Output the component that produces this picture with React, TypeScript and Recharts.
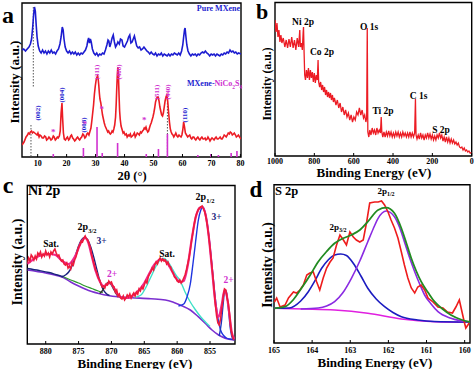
import React from 'react';
import { LineChart, Line, XAxis, YAxis, ReferenceLine, ReferenceArea } from 'recharts';

const SERIF = '"Liberation Serif", "Times New Roman", serif';

// ---- (a) XRD: 2θ (deg) vs intensity (a.u.)
const xrdTicks = [10, 20, 30, 40, 50, 60, 70, 80];
const xrdMxene = [
  [4.6,107],[5.2,108],[5.8,106],[6.4,108],[7.0,110],[7.5,113],[7.9,118],[8.3,130],[8.6,142],[8.9,150],[9.2,146],[9.5,132],[9.8,120],[10.2,111],[10.7,106],[11.2,104],[11.7,107],[12.2,104],[12.7,106],[13.2,103],[13.7,106],[14.2,104],[14.7,107],[15.2,104],[15.7,105],[16.2,103],[16.7,106],[17.2,108],[17.7,113],[18.1,120],[18.5,130],[18.8,127],[19.1,118],[19.5,110],[20,106],[20.5,104],[21,106],[21.5,103],[22,105],[22.5,103],[23,105],[23.5,102],[24,104],[24.5,102],[25,104],[25.5,103],[26,105],[26.5,107],[27,111],[27.3,116],[27.6,119],[27.9,114],[28.2,118],[28.5,115],[28.9,108],[29.4,104],[29.9,102],[30.4,104],[30.9,101],[31.4,103],[31.9,102],[32.4,104],[32.9,103],[33.4,107],[33.9,112],[34.3,117],[34.6,116],[34.9,110],[35.3,114],[35.7,119],[36.1,122],[36.5,115],[36.9,110],[37.3,112],[37.7,115],[38.2,113],[38.6,118],[39.1,117],[39.5,111],[40,110],[40.5,113],[41,116],[41.4,120],[41.8,122],[42.2,114],[42.6,115],[43,118],[43.4,121],[43.8,116],[44.2,111],[44.7,109],[45.2,110],[45.7,107],[46.2,108],[46.7,110],[47.2,108],[47.7,106],[48.2,105],[48.7,103],[49.2,105],[49.7,103],[50.2,102],[50.7,104],[51.2,101],[51.7,103],[52.2,102],[52.7,104],[53.2,101],[53.7,103],[54.2,102],[54.7,101],[55.2,103],[55.7,101],[56.2,103],[56.7,102],[57.2,104],[57.7,103],[58.2,102],[58.7,104],[59.2,102],[59.7,106],[60.1,112],[60.4,120],[60.7,127],[60.9,129],[61.2,120],[61.5,112],[61.9,106],[62.4,103],[62.9,101],[63.4,103],[63.9,102],[64.4,103],[64.9,101],[65.4,103],[65.9,102],[66.4,104],[66.9,105],[67.4,104],[67.9,106],[68.4,104],[68.9,103],[69.4,101],[69.9,103],[70.4,102],[70.9,103],[71.4,101],[71.9,103],[72.4,102],[72.9,101],[73.4,103],[73.9,102],[74.4,104],[74.9,103],[75.4,105],[75.9,104],[76.4,107],[76.9,105],[77.4,106],[77.9,104],[78.4,105],[78.9,103],[79.4,104],[80.2,103],
];
const xrdComposite = [
  [4.6,12],[5.3,15],[6.0,20],[6.5,22],[6.8,24],[7.2,23],[7.5,25],[7.9,26],[8.2,24],[8.6,25],[9.0,24],[9.4,23],[9.8,22],[10.1,24],[10.5,20],[10.8,22],[11.2,21],[11.6,19],[12.0,19],[12.4,21],[12.8,20],[13.1,17],[13.5,18],[13.9,20],[14.2,19],[14.6,17],[15.0,18],[15.4,21],[15.7,20],[16.1,17],[16.4,18],[16.8,20],[17.1,19],[17.5,21],[17.8,26],[18.1,44],[18.4,54],[18.6,40],[18.9,24],[19.2,18],[19.6,17],[20.0,19],[20.3,20],[20.7,17],[21.0,18],[21.4,21],[21.7,22],[22.1,19],[22.4,18],[22.8,16],[23.1,17],[23.5,19],[23.8,20],[24.2,18],[24.5,17],[24.9,19],[25.2,20],[25.6,23],[25.9,22],[26.3,19],[26.6,20],[27.0,23],[27.3,24],[27.7,22],[28.0,25],[28.4,29],[28.7,36],[29.0,44],[29.3,52],[29.6,63],[29.9,71],[30.2,77],[30.5,80],[30.7,81],[30.9,78],[31.1,72],[31.3,64],[31.5,58],[31.8,54],[32.1,48],[32.4,42],[32.7,38],[33.0,34],[33.3,31],[33.6,29],[33.9,27],[34.2,25],[34.5,26],[34.8,24],[35.1,23],[35.4,24],[35.7,26],[36.0,25],[36.3,28],[36.6,32],[36.9,40],[37.1,52],[37.3,68],[37.5,82],[37.7,90],[37.9,80],[38.1,62],[38.3,46],[38.5,38],[38.8,31],[39.1,28],[39.5,24],[39.8,25],[40.2,22],[40.6,23],[40.9,20],[41.3,22],[41.6,21],[42.0,23],[42.3,20],[42.7,21],[43.0,22],[43.4,24],[43.7,20],[44.1,22],[44.4,24],[44.8,23],[45.1,22],[45.5,25],[45.8,24],[46.2,26],[46.5,27],[46.8,29],[47.1,28],[47.4,30],[47.7,27],[48.0,25],[48.3,26],[48.6,29],[48.9,32],[49.2,34],[49.5,37],[49.8,40],[50.1,44],[50.4,49],[50.7,55],[51.0,58],[51.3,60],[51.6,60],[51.9,56],[52.2,50],[52.5,46],[52.8,42],[53.1,41],[53.4,44],[53.7,50],[54.0,56],[54.3,60],[54.6,62],[54.9,56],[55.2,45],[55.5,35],[55.8,28],[56.1,25],[56.4,23],[56.7,22],[57.0,20],[57.4,22],[57.7,24],[58.1,21],[58.4,20],[58.8,22],[59.1,21],[59.5,20],[59.8,22],[60.1,27],[60.4,35],[60.7,30],[61.0,24],[61.4,22],[61.8,20],[62.1,21],[62.5,22],[62.9,19],[63.2,18],[63.6,20],[63.9,20],[64.3,18],[64.6,17],[65.0,19],[65.3,20],[65.7,18],[66.0,17],[66.4,19],[66.7,20],[67.1,18],[67.4,18],[67.8,19],[68.1,17],[68.5,18],[68.8,20],[69.2,18],[69.5,16],[69.9,18],[70.2,19],[70.6,18],[70.9,17],[71.3,19],[71.6,20],[72.0,18],[72.3,18],[72.7,19],[73.0,20],[73.4,18],[73.7,18],[74.1,20],[74.4,22],[74.8,21],[75.1,20],[75.5,22],[75.8,24],[76.2,23],[76.5,25],[76.9,24],[77.2,22],[77.6,23],[77.9,24],[78.3,22],[78.6,20],[79.0,21],[79.3,22],[79.7,20],[80.2,18],
];
// NiCo2S4 reference lines: position (deg), height
const stickPos = [15.4, 25.8, 30.5, 32.3, 37.6, 47.5, 51.7, 54.8, 65.3, 69.8, 72.4, 76.8, 78.8];
const stickHeight = [3, 9, 30, 4, 14, 3, 8, 23, 2, 3, 2, 4, 6];
// dotted guide lines: [x, yFrom, yTo]
const xrdGuides = [[8.5, 150, 70], [7.7, 32, 0], [54.8, 60, 0]];

// ---- (b) XPS survey
const surveyTicks = [1000, 800, 600, 400, 200, 0];
const survey = [
  [1000,136],[995,124],[990,133],[985,119],[980,126],[975,114],[970,121],[965,113],[958,118],[950,109],[943,116],[936,108],[929,117],[922,109],[915,119],[908,108],[901,116],[894,106],[887,118],[880,109],[874,126],[871,109],[866,113],[861,106],[857,123],[855,129],[852,103],[849,81],[845,76],[840,86],[835,78],[830,88],[825,76],[820,86],[815,78],[810,84],[805,74],[800,83],[795,73],[790,81],[785,76],[781,96],[778,74],[773,69],[768,74],[763,66],[758,71],[753,64],[748,69],[743,61],[738,66],[733,59],[728,64],[723,58],[718,63],[713,56],[708,61],[703,54],[698,58],[690,51],[683,56],[676,48],[669,53],[662,44],[655,49],[648,41],[641,46],[634,39],[627,43],[620,36],[613,41],[606,34],[599,39],[592,36],[585,44],[578,41],[571,48],[564,41],[557,46],[550,38],[544,41],[538,34],[534,38],[531,128],[528,24],[523,19],[518,26],[512,21],[506,28],[500,23],[494,26],[488,21],[482,28],[476,23],[470,26],[464,23],[460,39],[457,24],[452,19],[446,24],[440,19],[434,24],[428,20],[422,25],[416,20],[410,24],[404,19],[398,23],[392,19],[386,24],[380,20],[374,24],[368,19],[362,23],[356,19],[350,24],[344,20],[338,23],[332,19],[326,23],[320,19],[314,24],[308,19],[302,23],[296,19],[290,23],[286,57],[283,21],[278,17],[272,21],[266,17],[260,23],[254,18],[248,21],[242,16],[236,21],[230,18],[224,23],[218,18],[212,22],[206,17],[200,21],[194,16],[188,20],[182,16],[176,21],[170,18],[164,23],[158,18],[152,21],[146,15],[140,19],[134,14],[128,19],[122,14],[116,18],[110,13],[104,17],[98,13],[92,16],[86,12],[80,14],[74,11],[68,13],[62,9],[56,8],[50,9],[44,6],[38,8],[32,5],[26,6],[20,4],[14,5],[8,3],[0,3],
];

// ---- (c) Ni 2p
const niTicks = [880, 875, 870, 865, 860, 855];
const niData = [
  [882.8,81],[882.6,86],[882.4,83],[882.2,89],[882.0,87],[881.8,84],[881.6,88],[881.4,85],[881.2,91],[881.0,89],[880.8,92],[880.6,87],[880.4,90],[880.2,88],[880.0,93],[879.8,89],[879.6,91],[879.4,87],[879.2,92],[879.0,90],[878.8,93],[878.6,95],[878.4,91],[878.2,88],[878.0,89],[877.8,85],[877.6,83],[877.4,84],[877.2,80],[877.0,79],[876.8,81],[876.6,76],[876.4,78],[876.2,75],[876.0,81],[875.8,79],[875.6,84],[875.4,87],[875.2,92],[875.0,97],[874.8,99],[874.6,103],[874.4,102],[874.2,106],[874.0,108],[873.8,105],[873.6,104],[873.4,100],[873.2,96],[873.0,89],[872.8,84],[872.6,79],[872.4,74],[872.2,71],[872.0,66],[871.8,64],[871.6,60],[871.4,57],[871.2,58],[871.0,56],[870.8,60],[870.6,59],[870.4,63],[870.2,61],[870.0,62],[869.8,58],[869.6,57],[869.4,52],[869.2,54],[869.0,48],[868.8,50],[868.6,46],[868.4,45],[868.2,48],[868.0,44],[867.8,46],[867.6,49],[867.4,47],[867.2,50],[867.0,46],[866.8,49],[866.6,51],[866.4,48],[866.2,52],[866.0,50],[865.8,55],[865.6,53],[865.4,57],[865.2,55],[865.0,59],[864.8,63],[864.6,61],[864.4,67],[864.2,70],[864.0,72],[863.8,76],[863.6,74],[863.4,79],[863.2,82],[863.0,80],[862.8,84],[862.6,86],[862.4,83],[862.2,85],[862.0,83],[861.8,84],[861.6,80],[861.4,82],[861.2,78],[861.0,77],[860.8,73],[860.6,71],[860.4,67],[860.2,66],[860.0,63],[859.8,62],[859.6,64],[859.4,61],[859.2,63],[859.0,66],[858.8,69],[858.6,74],[858.4,80],[858.2,86],[858.0,94],[857.8,104],[857.6,112],[857.4,120],[857.2,127],[857.0,131],[856.8,134],[856.6,136],[856.4,137],[856.2,138],[856.0,135],[855.8,132],[855.6,126],[855.4,118],[855.2,108],[855.0,96],[854.8,83],[854.6,70],[854.4,56],[854.2,40],[854.0,28],[853.8,21],[853.6,19],[853.4,25],[853.2,36],[853.0,47],[852.8,55],[852.6,54],[852.4,46],[852.2,40],[852.0,28],[851.8,14],[851.6,8],[851.4,4],
];
const niEnvelope = [
  [882.8,80],[881,88],[879.5,90],[878.5,89],[877.5,83],[876.5,80],[875.5,88],[874.5,103],[874,106],[873.5,101],[873,88],[872.4,73],[871.8,63],[871.2,58],[870.6,60],[870.2,61],[869.6,56],[869,49],[868.2,46],[867.4,46],[866.6,49],[865.8,54],[865,61],[864.2,71],[863.4,80],[862.6,84.5],[862,84],[861.4,80],[860.8,73],[860.2,66],[859.6,62],[859,63],[858.4,78],[857.8,104],[857.2,126],[856.6,136],[856.2,137],[855.7,130],[855.2,108],[854.7,75],[854.2,42],[853.7,27],[853.2,40],[852.8,54],[852.5,50],[852.1,32],[851.7,12],[851.3,5],
];
const niBackground = [
  [882.8,74],[880,71],[878,68],[877.5,67],[876.2,62],[875,58],[874,55],[873,52.5],[871.9,50.5],[870.5,48.5],[869,47.2],[866.9,46.3],[864,45.2],[861.8,44],[860.5,41.5],[859.3,38.3],[858,34],[856.8,27.3],[855.7,20.5],[854.7,14],[853.7,9],[853.2,7.3],[852.3,5],[851.3,4],
];
const niSatLow = [[882.8,75.5],[881,73.5],[879.5,71.5],[878.2,69],[877.4,67.5]];
const niGreen = [[877.4,67.5],[876.2,64],[875,61],[874,58],[873,55.5],[872,53],[871.3,51.5]];
const ni3p32 = [
  [877.6,67],[877,69],[876.5,72],[876,78],[875.5,88],[875,98],[874.5,104.5],[874.1,106.5],[873.7,105],[873.2,98],[872.7,87],[872.2,74],[871.8,64],[871.3,55],[870.8,50.5],[870.3,48.5],
];
const ni2p32 = [[871.8,50.5],[871.3,54],[870.9,59],[870.5,61.5],[870.1,60],[869.6,54],[869.1,48.5],[868.7,47]];
const niSatHigh = [
  [866.5,46.5],[865.5,49],[864.8,56],[864,67],[863.2,78],[862.5,84.5],[862,85.5],[861.5,83],[860.8,76],[860.2,69],[859.6,64],[858.8,52],[858,42],[857.2,34],[856.4,27],[855.7,22],[855,17.5],
];
const ni3p12 = [
  [859.8,38],[859,40],[858.5,47],[858,60],[857.6,80],[857.2,102],[856.8,123],[856.4,134],[856.1,137],[855.8,133],[855.4,120],[855,98],[854.6,72],[854.2,46],[853.8,26],[853.4,14],[853,9],[852.5,6],[852,5],[851.3,4.5],
];
const ni2p12 = [[853.6,8],[853.3,20],[853,40],[852.75,54],[852.5,52],[852.2,35],[851.9,15],[851.6,6],[851.3,4]];

// ---- (d) S 2p
const sTicks = [165, 164, 163, 162, 161, 160];
const sData = [
  [164.99,41],[164.93,45],[164.84,36],[164.71,38],[164.62,45],[164.49,51],[164.41,50],[164.32,53],[164.23,58],[164.14,68],[164.06,70],[163.97,71],[163.88,61],[163.8,53],[163.71,65],[163.62,75],[163.53,81],[163.45,85],[163.36,98],[163.27,108],[163.18,103],[163.1,98],[163.01,111],[162.92,106],[162.84,103],[162.75,101],[162.66,103],[162.57,121],[162.49,140],[162.36,141],[162.27,141],[162.18,142],[162.1,138],[162.01,131],[161.93,123],[161.84,115],[161.75,105],[161.66,91],[161.58,78],[161.49,65],[161.4,55],[161.31,50],[161.23,56],[161.14,58],[161.05,53],[160.96,45],[160.83,41],[160.7,36],[160.57,35],[160.45,31],[160.32,30],[160.23,36],[160.14,43],[160.01,21],[159.97,15],[159.88,20],
];
const sEnvelope = [
  [164.99,34.7],[164.71,36.3],[164.5,43],[164.28,54.7],[164.05,68],[163.84,81.3],[163.62,91.5],[163.41,99.7],[163.2,104.5],[162.97,108],[162.75,113],[162.54,121.3],[162.27,133],[162.06,135.3],[161.84,129.7],[161.66,114.7],[161.53,100],[161.4,84.7],[161.27,72],[161.14,61.3],[160.95,50],[160.79,41.3],[160.58,34],[160.36,28],[160.1,23.5],[159.86,21],
];
const s2p32 = [
  [164.99,34.7],[164.6,35],[164.3,42],[164.1,51.3],[163.93,62],[163.75,74.7],[163.58,83],[163.41,88],[163.25,89],[163.1,87.5],[162.89,78],[162.72,67],[162.54,54.7],[162.32,44],[162.1,36.3],[161.88,30.5],[161.66,26.3],[161.23,23],[160.8,21.5],[159.86,21],
];
const s2p12 = [
  [164.3,34],[163.84,35],[163.62,37],[163.41,41.3],[163.2,50],[162.97,64.7],[162.75,82],[162.54,101.3],[162.4,114],[162.27,124.7],[162.06,132],[161.84,126.3],[161.7,115],[161.58,101.3],[161.45,86],[161.31,71.3],[161.18,59],[161.05,48],[160.88,39],[160.7,31.3],[160.36,24.7],[159.86,21],
];
const sBackground = [[164.99,34.7],[164.2,34],[163.41,33],[162.54,29.7],[161.66,24],[160.79,21.3],[159.86,20.7]];

const pts = (arr: number[][]) => arr.map(([x, y]) => ({ x, y }));

const tickStyle = { fontSize: 8, fontWeight: 700, fill: '#000', fontFamily: SERIF };

type TxtProps = {
  x: number; y: number; size: number; color?: string; rotate?: boolean;
  anchor?: 'start' | 'middle' | 'end'; children: React.ReactNode;
};
const Txt = ({ x, y, size, color = '#000', rotate = false, anchor = 'middle', children }: TxtProps) => {
  const tx = anchor === 'start' ? '0' : anchor === 'end' ? '-100%' : '-50%';
  return (
    <div
      style={{
        position: 'absolute', left: x, top: y, fontSize: size, color, fontWeight: 700,
        fontFamily: SERIF, lineHeight: 1, whiteSpace: 'nowrap',
        transform: `translate(${tx}, -50%)${rotate ? ' rotate(-90deg)' : ''}`,
      }}
    >
      {children}
    </div>
  );
};
const Sub = ({ children, size }: { children: React.ReactNode; size: number }) => (
  <span style={{ fontSize: size, verticalAlign: 'sub' }}>{children}</span>
);

const fit = (data: number[][], color: string, w = 1.4) => (
  <Line data={pts(data)} dataKey="y" type="monotone" stroke={color} strokeWidth={w} dot={false} isAnimationActive={false} />
);
const raw = (data: number[][], color: string, w = 1.4) => (
  <Line data={pts(data)} dataKey="y" type="linear" stroke={color} strokeWidth={w} dot={false} isAnimationActive={false} />
);

const BLUE = '#1c1cd0';
const RED = '#ec1c24';
const MAG = '#d030d0';
const NAVY = '#1a237e';

export default function App() {
  return (
    <div style={{ position: 'absolute', left: 0, top: 0, width: 474, height: 369, background: '#fff', overflow: 'hidden' }}>
      {/* (a) */}
      <div style={{ position: 'absolute', left: 0, top: 0 }}>
        <LineChart width={250} height={182} margin={{ top: 3, left: 22, right: 9, bottom: 0 }}>
          <XAxis type="number" dataKey="x" domain={[4.6, 80.2]} ticks={xrdTicks} interval={0} allowDataOverflow
            axisLine={false} tickSize={-3} tickMargin={6.5} tick={tickStyle} tickLine={{ stroke: '#000' }} height={25} />
          <YAxis hide type="number" domain={[0, 154]} allowDataOverflow />
          {xrdGuides.map(([x, y1, y2], i) => (
            <ReferenceLine key={'g' + i} segment={[{ x, y: y1 }, { x, y: y2 }]} stroke="#555" strokeDasharray="1.5 1.5" strokeWidth={1} />
          ))}
          {raw(xrdMxene, BLUE, 1.6)}
          {raw(xrdComposite, RED, 1.6)}
          {stickPos.map((x, i) => (
            <ReferenceLine key={'s' + i} segment={[{ x, y: 0 }, { x, y: stickHeight[i] }]} stroke={MAG} strokeWidth={1.6} />
          ))}
          <ReferenceArea x1={4.6} x2={80.2} y1={0} y2={154} fill="none" stroke="#000" strokeWidth={1.4} ifOverflow="visible" />
        </LineChart>
      </div>

      {/* (b) */}
      <div style={{ position: 'absolute', left: 240, top: 0 }}>
        <LineChart width={234} height={182} margin={{ top: 2.5, left: 35, right: 2.3, bottom: 0 }}>
          <XAxis type="number" dataKey="x" domain={[0, 1000]} reversed ticks={surveyTicks} interval={0} allowDataOverflow
            axisLine={false} tickSize={-3} tickMargin={5} tick={tickStyle} tickLine={{ stroke: '#000' }} height={26} />
          <YAxis hide type="number" domain={[0, 153.5]} allowDataOverflow />
          {raw(survey, RED, 1.3)}
          <ReferenceArea x1={0} x2={1000} y1={0} y2={153.5} fill="none" stroke="#000" strokeWidth={1.4} ifOverflow="visible" />
        </LineChart>
      </div>

      {/* (c) */}
      <div style={{ position: 'absolute', left: 0, top: 178 }}>
        <LineChart width={240} height={191} margin={{ top: 7.5, left: 27.3, right: 5, bottom: 0 }}>
          <XAxis type="number" dataKey="x" domain={[851.2, 882.8]} reversed ticks={niTicks} interval={0} allowDataOverflow
            axisLine={false} tickSize={-3} tickMargin={7} tick={tickStyle} tickLine={{ stroke: '#000' }} height={25} />
          <YAxis hide type="number" domain={[0, 158.5]} allowDataOverflow />
          {fit(niBackground, '#7b2fd0', 1.6)}
          {fit(niGreen, '#2e9a2e', 1.3)}
          {fit(niSatLow, NAVY, 1.4)}
          {fit(niSatHigh, '#3fe0c8', 1.4)}
          {fit(ni3p32, NAVY, 1.4)}
          {fit(ni2p32, '#333333', 1.4)}
          {fit(ni3p12, '#1f35e0', 1.4)}
          {fit(ni2p12, '#1f35c0', 1.4)}
          {fit(niEnvelope, '#f02890', 2.2)}
          {raw(niData, '#ee1a3c', 1.6)}
          <ReferenceArea x1={851.2} x2={882.8} y1={0} y2={158.5} fill="none" stroke="#000" strokeWidth={1.4} ifOverflow="visible" />
        </LineChart>
      </div>

      {/* (d) */}
      <div style={{ position: 'absolute', left: 240, top: 178 }}>
        <LineChart width={234} height={191} margin={{ top: 6.7, left: 34, right: 4, bottom: 0 }}>
          <XAxis type="number" dataKey="x" domain={[159.86, 165]} reversed ticks={sTicks} interval={0} allowDataOverflow
            axisLine={false} tickSize={-3} tickMargin={7} tick={tickStyle} tickLine={{ stroke: '#000' }} height={26} />
          <YAxis hide type="number" domain={[0, 158.3]} allowDataOverflow />
          {fit(sBackground, '#e020e0', 1.6)}
          {fit(s2p32, '#1c1cc0', 1.6)}
          {fit(s2p12, '#8a2be2', 1.6)}
          {raw(sData, '#ee1c1c', 1.6)}
          {fit(sEnvelope, '#228b22', 1.8)}
          <ReferenceArea x1={159.86} x2={165} y1={0} y2={158.3} fill="none" stroke="#000" strokeWidth={1.4} ifOverflow="visible" />
        </LineChart>
      </div>

      {/* panel letters */}
      <Txt x={8} y={15} size={24}>a</Txt>
      <Txt x={262} y={12} size={22}>b</Txt>
      <Txt x={8} y={185} size={24}>c</Txt>
      <Txt x={256} y={189} size={23}>d</Txt>

      {/* axis titles */}
      <Txt x={15} y={82} size={13.3} rotate>Intensity (a.u.)</Txt>
      <Txt x={132} y={176} size={12.5}>2θ (°)</Txt>
      <Txt x={268} y={84} size={11.7} rotate>Intensity (a.u.)</Txt>
      <Txt x={374} y={172} size={13}>Binding Energy (eV)</Txt>
      <Txt x={18} y={262} size={13.9} rotate>Intensity (a.u.)</Txt>
      <Txt x={135} y={363} size={13}>Binding Energy (eV)</Txt>
      <Txt x={268} y={265} size={13.7} rotate>Intensity (a.u.)</Txt>
      <Txt x={375} y={362} size={13}>Binding Energy (eV)</Txt>

      {/* (a) annotations */}
      <Txt x={240} y={8.5} size={8} color={BLUE} anchor="end">Pure MXene</Txt>
      <Txt x={187} y={85} size={8} color={BLUE} anchor="start">
        MXene-<span style={{ color: MAG }}>NiCo<Sub size={5.5}>2</Sub>S<Sub size={5.5}>4</Sub></span>
      </Txt>
      <Txt x={38.3} y={113} size={7} color={BLUE} rotate>(002)</Txt>
      <Txt x={61.7} y={95} size={7} color={BLUE} rotate>(004)</Txt>
      <Txt x={84.3} y={125} size={7} color={BLUE} rotate>(008)</Txt>
      <Txt x={96.7} y={72} size={7} color={MAG} rotate>(311)</Txt>
      <Txt x={119.3} y={72} size={7} color={MAG} rotate>(400)</Txt>
      <Txt x={156.7} y={92} size={7} color={MAG} rotate>(511)</Txt>
      <Txt x={168.3} y={92} size={7} color={MAG} rotate>(440)</Txt>
      <Txt x={185} y={115} size={7} color={BLUE} rotate>(110)</Txt>
      <Txt x={53.3} y={132} size={9} color={MAG}>*</Txt>
      <Txt x={85} y={124} size={9} color={MAG}>*</Txt>
      <Txt x={101.7} y={109} size={9} color={MAG}>*</Txt>
      <Txt x={144.3} y={120} size={9} color={MAG}>*</Txt>

      {/* (b) annotations */}
      <Txt x={303} y={23} size={9.5}>Ni 2p</Txt>
      <Txt x={322} y={53} size={9.5}>Co 2p</Txt>
      <Txt x={369} y={28} size={9.5}>O 1s</Txt>
      <Txt x={383} y={112} size={9.5}>Ti 2p</Txt>
      <Txt x={418.5} y={97} size={9.5}>C 1s</Txt>
      <Txt x={441} y={131} size={9.5}>S 2p</Txt>

      {/* (c) annotations */}
      <Txt x={28} y={191} size={14} anchor="start">Ni 2p</Txt>
      <Txt x={51} y={245} size={9.5}>Sat.</Txt>
      <Txt x={87} y={228} size={10}>2p<Sub size={6.5}>3/2</Sub></Txt>
      <Txt x={101.5} y={242} size={9.5} color={NAVY}>3+</Txt>
      <Txt x={112} y={275} size={9.5} color={MAG}>2+</Txt>
      <Txt x={167} y={255} size={9.5}>Sat.</Txt>
      <Txt x={205} y={198} size={10}>2p<Sub size={6.5}>1/2</Sub></Txt>
      <Txt x={216.5} y={218} size={9.5} color={NAVY}>3+</Txt>
      <Txt x={228.5} y={281} size={9.5} color={MAG}>2+</Txt>

      {/* (d) annotations */}
      <Txt x={275} y={191} size={12.5} anchor="start">S 2p</Txt>
      <Txt x={338} y={228} size={9}>2p<Sub size={6}>3/2</Sub></Txt>
      <Txt x={386} y={192} size={9}>2p<Sub size={6}>1/2</Sub></Txt>
    </div>
  );
}
